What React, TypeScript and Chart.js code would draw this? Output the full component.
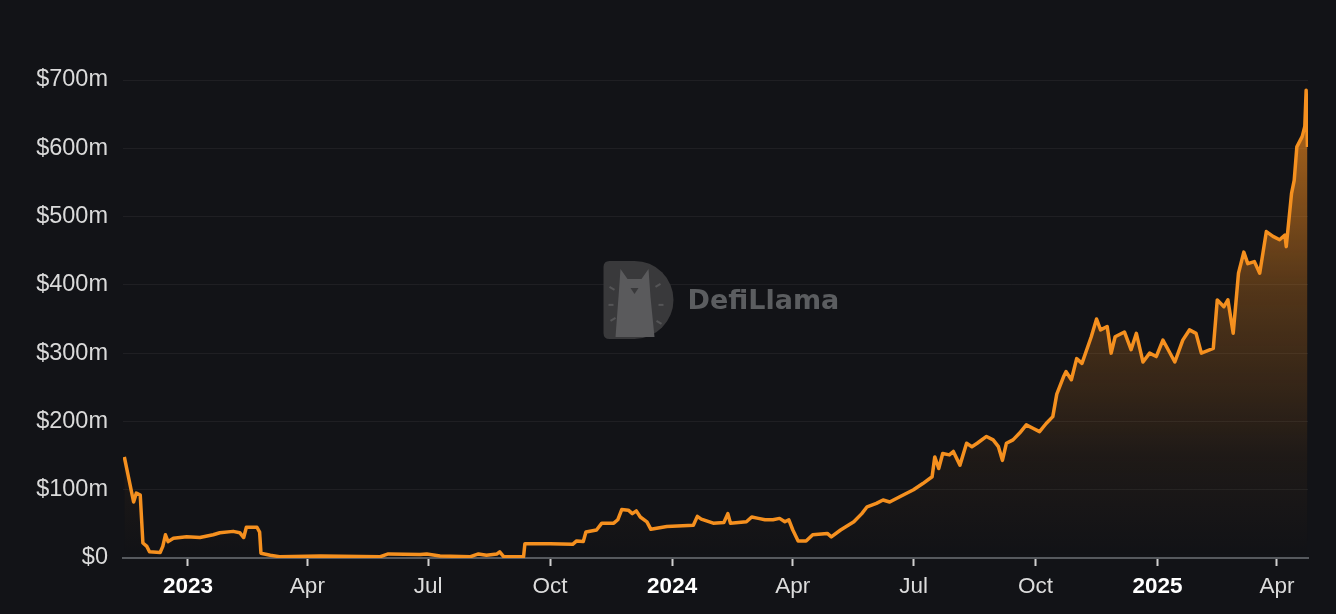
import React, { useEffect, useRef } from 'react';
import { Chart, registerables } from 'chart.js';

Chart.register(...registerables);

// x = days since 2023-01-01, y = TVL in $ millions
const dayOffsets = [
  -48, -41, -39, -36, -34, -31, -29, -21, -19, -17, -15, -11, -1, 9, 19, 24, 34, 39, 42, 44, 52, 54, 55, 62, 69,
  100, 145, 151, 175, 180, 190, 213, 219, 225, 233, 235, 238, 253, 254, 273, 290, 293, 298, 300, 308, 312, 321,
  324, 327, 332, 335, 338, 341, 346, 349, 361, 381, 384, 387, 396, 404, 407, 409, 421, 425, 430, 435, 441, 446,
  450, 453, 456, 460, 466, 471, 482, 485, 492, 502, 508, 512, 519, 524, 529, 537, 547, 554, 561, 563, 566, 569,
  574, 577, 582, 587, 591, 595, 602, 607, 611, 614, 617, 622, 627, 632, 637, 642, 647, 652, 655, 660, 662, 666,
  670, 674, 681, 685, 688, 693, 696, 699, 706, 711, 715, 720, 725, 730, 735, 739, 744, 750, 755, 760, 764, 773,
  776, 781, 784, 788, 792, 796, 799, 804, 808, 813, 818, 823, 827, 828, 832, 834, 836, 840, 842, 843, 844,
];
const tvlMillions = [
  148, 82, 95, 92, 22, 17, 9, 8, 17, 34, 24, 29, 31, 30, 34, 37, 39, 37, 30, 45, 45, 38, 7, 4, 2,
  3, 2, 6, 5, 6, 3, 2, 6, 4, 6, 9, 2, 2, 21, 21, 20, 25, 24, 38, 41, 51, 51,
  56, 71, 70, 65, 69, 60, 53, 42, 46, 48, 61, 57, 51, 52, 65, 51, 53, 60, 58, 56, 56, 58,
  53, 56, 41, 25, 25, 34, 36, 31, 41, 53, 65, 75, 80, 85, 82, 90, 100, 109, 119, 148, 131, 153,
  151, 156, 136, 168, 163, 168, 178, 173, 163, 143, 168, 173, 183, 195, 190, 185, 197, 207, 240, 265, 273, 261,
  292, 285, 324, 350, 334, 339, 300, 324, 331, 305, 329, 287, 300, 295, 319, 305, 287, 319, 334, 329, 300, 307,
  378, 368, 378, 329, 417, 448, 431, 434, 417, 478, 471, 466, 473, 456, 534, 553, 602, 617, 632, 685, 602,
];

const xTickDays = [0, 90, 181, 273, 365, 456, 547, 639, 731, 821];
const xTickLabels = ['2023', 'Apr', 'Jul', 'Oct', '2024', 'Apr', 'Jul', 'Oct', '2025', 'Apr'];
const yearLabels = ['2023', '2024', '2025'];
const yTickValues = [0, 100, 200, 300, 400, 500, 600, 700];
const yTickLabels = ['$0', '$100m', '$200m', '$300m', '$400m', '$500m', '$600m', '$700m'];

const BG = '#121317';
const ORANGE = '#f5901f';
const FONT = "'Liberation Sans', Arial, Helvetica, sans-serif";

const watermark = {
  id: 'watermark',
  beforeDatasetsDraw(chart: any) {
    const { ctx, chartArea } = chart;
    const cx = (chartArea.left + chartArea.right) / 2;
    const cy = chartArea.top + (chartArea.bottom - chartArea.top) * 0.46;
    const x0 = cx - 112;
    const y0 = cy - 39;
    ctx.save();
    // D shape
    ctx.beginPath();
    ctx.moveTo(x0 + 6, y0);
    ctx.lineTo(x0 + 31, y0);
    ctx.arc(x0 + 31, y0 + 39, 39, -Math.PI / 2, Math.PI / 2);
    ctx.lineTo(x0 + 6, y0 + 78);
    ctx.quadraticCurveTo(x0, y0 + 78, x0, y0 + 72);
    ctx.lineTo(x0, y0 + 6);
    ctx.quadraticCurveTo(x0, y0, x0 + 6, y0);
    ctx.closePath();
    ctx.fillStyle = '#39393b';
    ctx.fill();
    // llama silhouette
    ctx.beginPath();
    ctx.moveTo(x0 + 17, y0 + 8);
    ctx.lineTo(x0 + 24, y0 + 18);
    ctx.lineTo(x0 + 38, y0 + 18);
    ctx.lineTo(x0 + 45, y0 + 8);
    ctx.lineTo(x0 + 46, y0 + 22);
    ctx.lineTo(x0 + 47, y0 + 36);
    ctx.lineTo(x0 + 51, y0 + 76);
    ctx.lineTo(x0 + 12, y0 + 76);
    ctx.lineTo(x0 + 15, y0 + 36);
    ctx.lineTo(x0 + 16, y0 + 22);
    ctx.closePath();
    ctx.fillStyle = '#5a5a5c';
    ctx.fill();
    ctx.fillStyle = '#39393b';
    ctx.beginPath();
    ctx.moveTo(x0 + 27, y0 + 27);
    ctx.lineTo(x0 + 35, y0 + 27);
    ctx.lineTo(x0 + 31, y0 + 33);
    ctx.closePath();
    ctx.fill();
    // small dashes around
    ctx.strokeStyle = '#555557';
    ctx.lineWidth = 2;
    const dashes = [[6, 26, 11, 29], [5, 44, 10, 44], [7, 60, 12, 57], [52, 26, 57, 23], [55, 44, 60, 44], [53, 60, 58, 63]];
    dashes.forEach(([a, b, c, d]) => {
      ctx.beginPath();
      ctx.moveTo(x0 + a, y0 + b);
      ctx.lineTo(x0 + c, y0 + d);
      ctx.stroke();
    });
    // text
    ctx.fillStyle = '#5b5d60';
    ctx.font = "bold 27px 'DejaVu Sans', sans-serif";
    ctx.textBaseline = 'middle';
    ctx.textAlign = 'left';
    ctx.fillText('DefiLlama', x0 + 84, cy + 2);
    ctx.restore();
  },
};

export default function App() {
  const ref = useRef<HTMLCanvasElement>(null);

  useEffect(() => {
    document.body.style.margin = '0';
    document.body.style.background = BG;
    const points = dayOffsets.map((d, i) => ({ x: d, y: tvlMillions[i] }));
    const chart = new Chart(ref.current as HTMLCanvasElement, {
      type: 'line',
      data: {
        datasets: [
          {
            data: points,
            borderColor: ORANGE,
            borderWidth: 3.5,
            borderJoinStyle: 'round',
            pointRadius: 0,
            tension: 0,
            fill: 'origin',
            backgroundColor: (c: any) => {
              const a = c.chart.chartArea;
              if (!a) return 'transparent';
              const g = c.chart.ctx.createLinearGradient(0, a.top, 0, a.bottom);
              g.addColorStop(0, 'rgba(245,140,30,0.75)');
              g.addColorStop(0.45, 'rgba(245,140,30,0.28)');
              g.addColorStop(0.8, 'rgba(245,140,30,0.05)');
              g.addColorStop(1, 'rgba(245,140,30,0)');
              return g;
            },
          },
        ],
      },
      options: {
        responsive: false,
        animation: false,
        layout: { padding: { left: 0, right: 28, top: 80, bottom: 0 } },
        plugins: { legend: { display: false }, tooltip: { enabled: false } },
        scales: {
          x: {
            type: 'linear',
            min: -49,
            max: 844.4,
            afterBuildTicks: (s: any) => {
              s.ticks = xTickDays.map((v) => ({ value: v }));
            },
            afterFit: (s: any) => {
              s.height = 56;
            },
            ticks: {
              autoSkip: false,
              maxRotation: 0,
              padding: 7,
              callback: (v: any) => xTickLabels[xTickDays.indexOf(Number(v))],
              color: (c: any) => (yearLabels.includes(xTickLabels[c.index]) ? '#ffffff' : '#dcdcdc'),
              font: (c: any) => ({
                family: FONT,
                size: 22.5,
                weight: yearLabels.includes(xTickLabels[c.index]) ? 'bold' : 'normal',
              }),
            },
            grid: { drawOnChartArea: false, tickColor: '#d0d0d0', tickLength: 8, tickWidth: 2 },
            border: { display: true, color: '#56595e', width: 2 },
          },
          y: {
            min: 0,
            max: 700,
            afterBuildTicks: (s: any) => {
              s.ticks = yTickValues.map((v) => ({ value: v }));
            },
            afterFit: (s: any) => {
              s.width = 123;
            },
            ticks: {
              padding: 15,
              color: '#dadada',
              font: { family: FONT, size: 23.5 },
              callback: (v: any) => yTickLabels[yTickValues.indexOf(Number(v))],
            },
            grid: { color: 'rgba(255,255,255,0.055)', drawTicks: false, lineWidth: 1 },
            border: { display: false },
          },
        },
      },
      plugins: [watermark],
    } as any);
    return () => chart.destroy();
  }, []);

  return (
    <div style={{ width: 1336, height: 614, background: BG }}>
      <canvas ref={ref} width={1336} height={614} style={{ display: 'block' }} />
    </div>
  );
}
